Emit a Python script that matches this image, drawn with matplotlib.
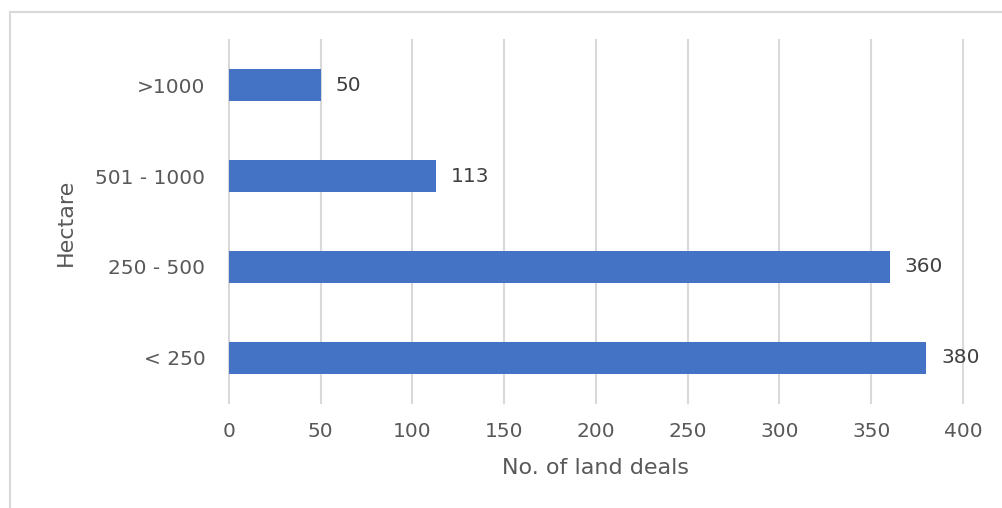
import matplotlib
matplotlib.use("Agg")
import matplotlib.pyplot as plt
from matplotlib.lines import Line2D

categories = ["< 250", "250 - 500", "501 - 1000", ">1000"]
values = [380, 360, 113, 50]
xticks = [0, 50, 100, 150, 200, 250, 300, 350, 400]

plt.rcParams['font.family'] = ['DejaVu Sans']
text_color = "#595959"
grid_color = "#D9D9D9"
bar_color = "#4472C4"

fig = plt.figure(figsize=(10.03, 5.08), dpi=100)
ax = fig.add_axes([229/1003, 1-403/508, (963-229)/1003, (403-40)/508])

pos = list(range(len(categories)))
ax.barh(pos, values, height=0.35, color=bar_color, zorder=3)
for p, v in zip(pos, values):
    ax.text(v + 8, p, str(v), va="center", ha="left", fontsize=14.5, color="#404040")

ax.set_xlim(0, 400)
ax.set_ylim(-0.5, len(categories) - 0.5)
ax.set_xticks(xticks)
ax.set_yticks(pos)
ax.set_yticklabels(categories)
ax.tick_params(axis="both", length=0, labelsize=14.5, labelcolor=text_color)
ax.tick_params(axis="x", pad=14)
ax.tick_params(axis="y", pad=17)
ax.grid(axis="x", color=grid_color, linewidth=1.5, zorder=0)
for gl in ax.xaxis.get_gridlines():
    gl.set_clip_on(False)
for s in ax.spines.values():
    s.set_visible(False)

ax.set_xlabel("No. of land deals", fontsize=16, color=text_color, va="center")
ax.xaxis.set_label_coords((596-229)/734, (403-468)/363)
ax.set_ylabel("Hectare", fontsize=16, color=text_color, va="center")
ax.yaxis.set_label_coords((66-229)/734, (403-222)/363)

# outer chart border (left and top visible)
fig.add_artist(Line2D([10/1003, 10/1003], [0, 1-12/508], transform=fig.transFigure, color=grid_color, linewidth=1.5))
fig.add_artist(Line2D([10/1003, 1], [1-12/508, 1-12/508], transform=fig.transFigure, color=grid_color, linewidth=1.5))

fig.savefig("out.png", dpi=100)
